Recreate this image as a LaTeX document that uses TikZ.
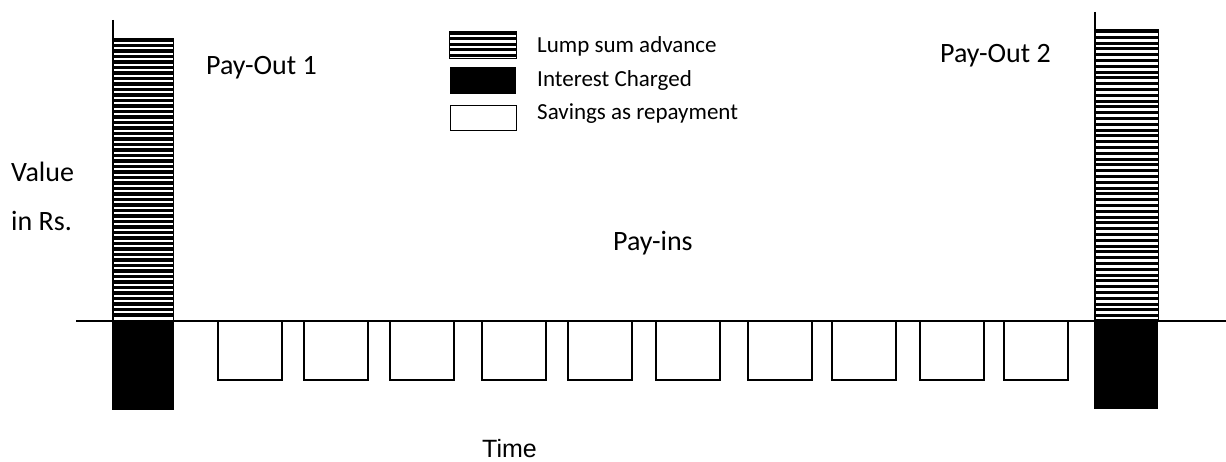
\documentclass[tikz,border=0pt]{standalone}
\usepackage{fontspec}
\setmainfont{Carlito}
\newfontfamily\arialf{Liberation Sans}
\tikzset{
  lbl/.style={inner sep=0pt, font=\fontsize{28}{28}\selectfont},
  leglbl/.style={inner sep=0pt, anchor=west, font=\fontsize{23}{23}\selectfont},
  savebox/.style={draw=black, line width=2pt, fill=white, inner sep=0pt, minimum width=64.5pt, minimum height=59pt, anchor=north west},
  blackbar/.style={fill=black, draw=black, line width=0.8pt},
  stripeline/.style={line width=3.1pt, black},
}
\newcommand{\stripes}[5]{% x1 y1 x2 y2 pitch
  \begin{scope}
    \clip (#1,#2) rectangle (#3,#4);
    \fill[white] (#1,#2) rectangle (#3,#4);
    \pgfmathsetmacro{\yfirst}{#2+1.5}
    \pgfmathsetmacro{\ysecond}{#2+1.5+#5}
    \foreach \yy in {\yfirst,\ysecond,...,#4} {
      \draw[stripeline] (#1,\yy) -- (#3,\yy);
    }
  \end{scope}
  \draw[line width=1pt] (#1,#2) rectangle (#3,#4);
}
\begin{document}
\begin{tikzpicture}[x=1pt,y=-1pt]
\useasboundingbox (0,0) rectangle (1226,462);
\fill[white] (0,0) rectangle (1226,462);

% axis
\coordinate (axL) at (76,321);
\coordinate (axR) at (1226,321);
\draw[line width=1.5pt] (axL) -- (axR);

% left bar
\stripes{112.5}{38.5}{173}{320}{5.5}
\draw[blackbar] (112.5,320) rectangle (173,409);
\coordinate (lt) at (112.5,20);
\coordinate (lb) at (112.5,409);
\draw[line width=2pt] (lt) -- (lb);

% right bar
\stripes{1095}{30}{1158}{319}{5.8}
\draw[blackbar] (1094.5,319) rectangle (1157,408);
\coordinate (rt) at (1095,12);
\coordinate (rb) at (1095,408);
\draw[line width=2pt] (rt) -- (rb);

% saving boxes
\foreach \xx [count=\i] in {216.7,302.7,388.7,480.7,566.7,654.7,746.7,830.7,918.7,1002.7} {
  \node[savebox] (s\i) at (\xx,320) {};
}

% legend
\stripes{449.5}{32}{516}{59}{5.4}
\fill[black] (449.5,66.7) rectangle (516,94);
\node[draw=black, line width=1.3pt, fill=white, inner sep=0pt, minimum width=66.5pt, minimum height=25pt, anchor=north west] (legw) at (449.5,105) {};
\node[leglbl] (l1) at (537,46) {Lump sum advance};
\node[leglbl] (l2) at (537,80) {Interest Charged};
\node[leglbl] (l3) at (537,114) {Savings as repayment};

% labels
\node[lbl, anchor=base west] (po1) at (206,75) {Pay-Out 1};
\node[lbl, anchor=base west] (po2) at (940,63) {Pay-Out 2};
\node[lbl, anchor=base west] (val) at (11,182) {Value};
\node[lbl, anchor=base west] (rs) at (11,231) {in Rs.};
\node[lbl, anchor=base west] (pin) at (613,251) {Pay-ins};
\node[inner sep=0pt, anchor=base west, font=\arialf\fontsize{25}{25}\selectfont] (time) at (482,457) {Time};
\end{tikzpicture}
\end{document}
